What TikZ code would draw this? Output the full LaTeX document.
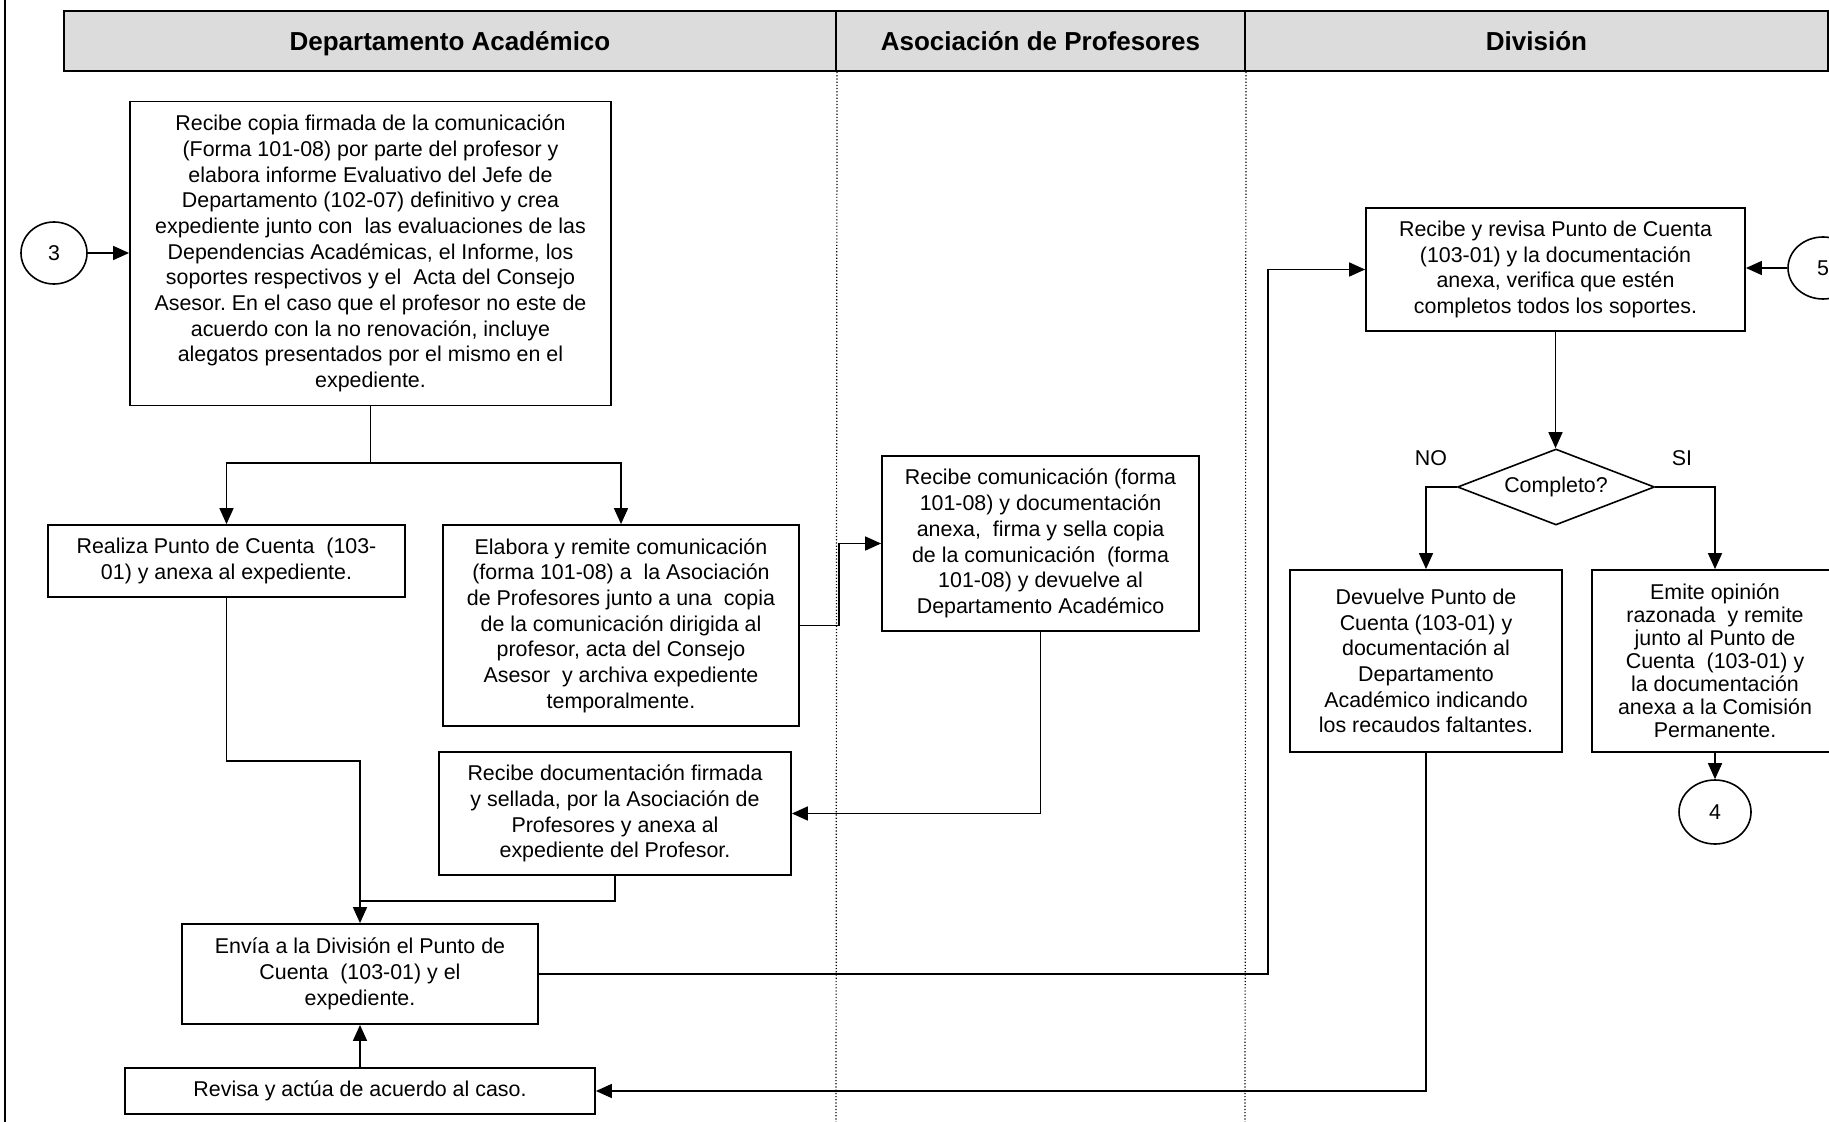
\documentclass[tikz,border=0pt]{standalone}
\usepackage{fontspec}
\setmainfont{Liberation Sans}
\frenchspacing
\usepackage{tikz}
\usetikzlibrary{shapes.geometric,arrows.meta}
\definecolor{hdrgray}{RGB}{220,220,220}
\tikzset{box/.style={rectangle,draw,line width=0.9pt,align=center,inner sep=2pt,font=\fontsize{10.7}{12.85}\selectfont},
  ell/.style={ellipse,draw,line width=0.8pt,inner sep=0pt,font=\fontsize{10.7}{12.85}\selectfont},
  dec/.style={diamond,draw,line width=0.8pt,aspect=2.6,inner sep=0pt,font=\fontsize{10.7}{12.85}\selectfont},
  lane/.style={rectangle,draw,line width=1pt,fill=hdrgray,minimum height=30pt,text height=11pt,text depth=1.5pt,font=\fontsize{13}{15}\selectfont\bfseries},
  lbl/.style={font=\fontsize{10.7}{12.85}\selectfont}}

\begin{document}
\begin{tikzpicture}[x=0.5pt,y=-0.5pt,>={Triangle[length=8pt,width=7pt]},line width=0.8pt]
    \useasboundingbox (0,0) rectangle (1829,1122);

    % lanes
    \node[lane,minimum width=386pt] (l1) at (450,41) {Departamento Académico};
    \node[lane,minimum width=204.5pt] (l2) at (1040.5,41) {Asociación de Profesores};
    \node[lane,minimum width=291.5pt] (l3) at (1536.5,41) {División};
    \draw[line width=1pt] (5,0) -- (5,1122);
    \draw[densely dotted,line width=0.6pt] (l1.south east) -- (836,1122);
    \draw[densely dotted,line width=0.6pt] (l2.south east) -- (1245,1122);

    % Departamento Academico
    \node[ell,minimum width=33pt,minimum height=31pt] (c3) at (54,253) {3};
    \node[box,minimum width=240.5pt,minimum height=152pt] (a) at (370.5,253.5) {Recibe copia firmada de la comunicación\\(Forma 101-08) por parte del profesor y\\elabora informe Evaluativo del Jefe de\\Departamento (102-07) definitivo y crea\\expediente junto con\ \ las evaluaciones de las\\Dependencias Académicas, el Informe, los\\soportes respectivos y el\ \ Acta del Consejo\\Asesor. En el caso que el profesor no este de\\acuerdo con la no renovación, incluye\\alegatos presentados por el mismo en el\\expediente.};
    \node[box,minimum width=178.5pt,minimum height=36pt] (b) at (226.5,561) {Realiza Punto de Cuenta\ \ (103-\\01) y anexa al expediente.};
    \node[box,minimum width=178pt,minimum height=100.5pt] (c) at (621,625.5) {Elabora y remite comunicación\\(forma 101-08) a\ \ la Asociación\\de Profesores junto a una\ \ copia\\de la comunicación dirigida al\\profesor, acta del Consejo\\Asesor\ \ y archiva expediente\\temporalmente.};
    \node[box,minimum width=176pt,minimum height=61.5pt] (e) at (615,813.5) {Recibe documentación firmada\\y sellada, por la Asociación de\\Profesores y anexa al\\expediente del Profesor.};
    \node[box,minimum width=178pt,minimum height=50pt] (env) at (360,974) {Envía a la División el Punto de\\Cuenta\ \ (103-01) y el\\expediente.};
    \node[box,minimum width=235pt,minimum height=23pt] (rev) at (360,1091) {Revisa y actúa de acuerdo al caso.};

    % Asociacion de Profesores
    \node[box,minimum width=158.5pt,minimum height=87.5pt] (d) at (1040.5,543.5) {Recibe comunicación (forma\\101-08) y documentación\\anexa,\ \ firma y sella copia\\de la comunicación\ \ (forma\\101-08) y devuelve al\\Departamento Académico};

    % Division
    \node[box,minimum width=189.5pt,minimum height=61.5pt] (f) at (1555.5,269.5) {Recibe y revisa Punto de Cuenta\\(103-01) y la documentación\\anexa, verifica que estén\\completos todos los soportes.};
    \node[ell,minimum width=35pt,minimum height=31pt] (c5) at (1823,268) {5};
    \node[dec,minimum width=98.5pt,minimum height=38pt] (dia) at (1556,487) {Completo?};
    \node[lbl] (no) at (1431,458) {NO};
    \node[lbl] (si) at (1682,458) {SI};
    \node[box,minimum width=136pt,minimum height=91pt] (g) at (1426,661) {Devuelve Punto de\\Cuenta (103-01) y\\documentación al\\Departamento\\Académico indicando\\los recaudos faltantes.};
    \node[box,minimum width=123pt,minimum height=91pt,font=\fontsize{10.7}{11.5}\selectfont] (h) at (1715,661) {Emite opinión\\razonada\ \ y remite\\junto al Punto de\\Cuenta\ \ (103-01) y\\la documentación\\anexa a la Comisión\\Permanente.};
    \node[ell,minimum width=36pt,minimum height=32pt] (c4) at (1715,812) {4};

    \draw[->] (c3.east) -- (a.west |- c3.east);
    \draw (a.south) -- (370.5,463) coordinate (split);
    \draw[->] (split) -| (b.north);
    \draw[->] (split) -| (c.north);
    \draw[->] (c.east) -- (839,625.5) |- (d.west);
    \draw[->] (d.south) |- (e.east);
    \draw[->] (b.south) |- (360,761) -- (env.north);
    \draw (e.south) |- (360,901);
    \draw[->] (rev.north) -- (env.south);
    \draw[->] (env.east) -- (1268,974) |- (f.west);
    \draw[->] (c5.west) -- (f.east |- c5.west);
    \draw[->] (f.south) -- (f.south |- dia.north);
    \draw[->] (dia.west) -| (g.north);
    \draw[->] (dia.east) -| (h.north);
    \draw[->] (h.south) -- (c4.north);
    \draw[->] (g.south) |- (rev.east);
\end{tikzpicture}
\end{document}
